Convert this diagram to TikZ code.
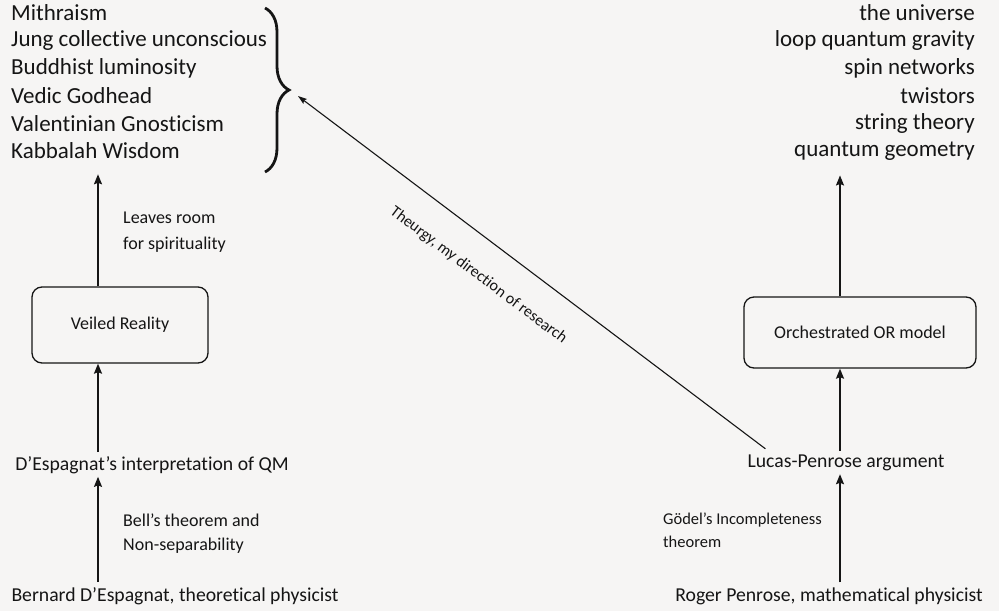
\documentclass[tikz,border=0pt]{standalone}
\usepackage{fontspec}
\setmainfont{Carlito}[Ligatures=NoCommon]
\usetikzlibrary{arrows.meta,positioning,decorations.pathreplacing}
\definecolor{paper}{HTML}{F6F5F4}
\definecolor{ink}{HTML}{151515}

\tikzset{
  arr/.style={line width=1.5pt, draw=ink, -{Stealth[length=10pt,width=8pt,inset=1.5pt]}},
  diagarr/.style={line width=1.1pt, draw=ink, {Stealth[length=9pt,width=6pt,inset=1.5pt]}-},
  box/.style={draw=ink, line width=1.3pt, rounded corners=10pt, align=center, text=ink, font=\fontsize{18}{20}\selectfont},
  bigtext/.style={text=ink, inner sep=0pt, font=\fontsize{23}{26}\selectfont},
  midtext/.style={text=ink, inner sep=0pt, font=\fontsize{19.7}{22}\selectfont},
  smalltext/.style={text=ink, inner sep=0pt, anchor=west, font=\fontsize{18}{20}\selectfont},
}

\begin{document}
\begin{tikzpicture}[x=1pt,y=-1pt]
    % Background and page size
    \fill[paper] (0,0) rectangle (999,611);
    \useasboundingbox (0,0) rectangle (999,611);

    % Left column of traditions
    \foreach \txt [count=\i] in {Mithraism, Jung collective unconscious, Buddhist luminosity, Vedic Godhead, Valentinian Gnosticism, Kabbalah Wisdom}
        \node[bigtext, anchor=west] (l\i) at (11,{13+27.6*(\i-1)}) {\txt};

    % Right column of physics
    \foreach \txt [count=\i] in {the universe, loop quantum gravity, spin networks, twistors, string theory, quantum geometry}
        \node[bigtext, anchor=east] (r\i) at (975,{13+27.6*(\i-1)}) {\txt};

    % Brace round the traditions
    \draw[ink, line width=2.8pt, decorate, decoration={brace, amplitude=24pt}] (265,8) -- (265,172);
    \coordinate (bracetip) at (290,90);

    % Left chain
    \coordinate (lx) at (98,0);
    \node[midtext] (bernard) at (175,596) {Bernard D’Espagnat, theoretical physicist};
    \node[midtext] (espint) at (152,465) {D’Espagnat’s interpretation of QM};
    \node[box, minimum width=176pt, minimum height=76pt] (veiled) at (120,325) {Veiled Reality};
    \draw[arr, shorten <=5pt, shorten >=3pt] (bernard.north -| lx) -- (espint.south -| lx);
    \draw[arr, shorten <=4pt] (espint.north -| lx) -- (veiled.south -| lx);
    \draw[arr] (veiled.north -| lx) -- ([yshift=-15pt]l6.south -| lx);
    \node[smalltext] (bell) at (123,520) {Bell’s theorem and};
    \node[smalltext] (nonsep) at (123,546) {Non-separability};
    \node[smalltext] (leaves) at (123,218) {Leaves room};
    \node[smalltext] (spirit) at (123,245) {for spirituality};

    % Right chain
    \coordinate (rx) at (840,0);
    \node[midtext] (roger) at (829,596) {Roger Penrose, mathematical physicist};
    \node[midtext] (lucas) at (846,463) {Lucas-Penrose argument};
    \node[box, minimum width=232pt, minimum height=71pt] (orch) at (860,332.5) {Orchestrated OR model};
    \draw[arr, shorten <=5pt, shorten >=3pt] (roger.north -| rx) -- (lucas.south -| rx);
    \draw[arr, shorten <=4pt] (lucas.north -| rx) -- (orch.south -| rx);
    \draw[arr] (orch.north -| rx) -- ([yshift=-15pt]r6.south -| rx);
    \node[smalltext, font=\fontsize{16.5}{18}\selectfont] (godel) at (663,520) {Gödel’s Incompleteness};
    \node[smalltext, font=\fontsize{16.5}{18}\selectfont] (theorem) at (663,542) {theorem};

    % Theurgy link
    \draw[diagarr, shorten <=10pt] (bracetip) -- node[sloped, below=27pt, pos=0.44, text=ink, inner sep=0pt, font=\fontsize{16}{18}\selectfont] {Theurgy, my direction of research} ([xshift=18pt,yshift=6pt]lucas.north west);
\end{tikzpicture}
\end{document}
